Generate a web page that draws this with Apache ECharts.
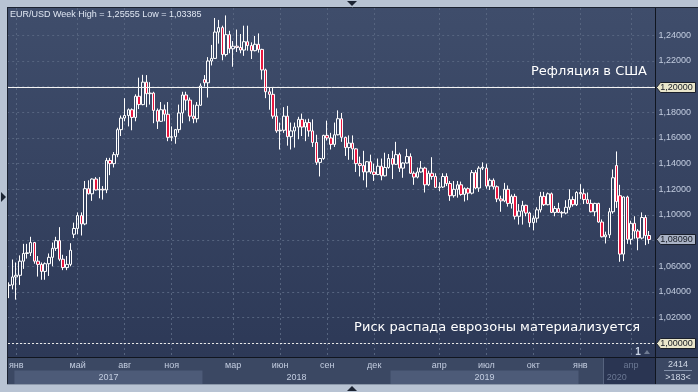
<!DOCTYPE html>
<html>
<head>
<meta charset="utf-8">
<script src="https://cdn.jsdelivr.net/npm/echarts@6.0.0/dist/echarts.min.js"></script>
<style>
html,body{margin:0;padding:0;overflow:hidden;background:#b8c3d3;}
#chart{width:698px;height:392px;}
</style>
</head>
<body>
<div id="chart"></div>
<script>
// ---------- data ----------
const weeks = [
'2016-12-18','2016-12-25',
'2017-01-01','2017-01-08','2017-01-15','2017-01-22','2017-01-29','2017-02-05','2017-02-12','2017-02-19','2017-02-26',
'2017-03-05','2017-03-12','2017-03-19','2017-03-26','2017-04-02','2017-04-09','2017-04-16','2017-04-23','2017-04-30',
'2017-05-07','2017-05-14','2017-05-21','2017-05-28','2017-06-04','2017-06-11','2017-06-18','2017-06-25','2017-07-02',
'2017-07-09','2017-07-16','2017-07-23','2017-07-30','2017-08-06','2017-08-13','2017-08-20','2017-08-27','2017-09-03',
'2017-09-10','2017-09-17','2017-09-24','2017-10-01','2017-10-08','2017-10-15','2017-10-22','2017-10-29','2017-11-05',
'2017-11-12','2017-11-19','2017-11-26','2017-12-03','2017-12-10','2017-12-17','2017-12-24','2017-12-31',
'2018-01-07','2018-01-14','2018-01-21','2018-01-28','2018-02-04','2018-02-11','2018-02-18','2018-02-25','2018-03-04',
'2018-03-11','2018-03-18','2018-03-25','2018-04-01','2018-04-08','2018-04-15','2018-04-22','2018-04-29','2018-05-06',
'2018-05-13','2018-05-20','2018-05-27','2018-06-03','2018-06-10','2018-06-17','2018-06-24','2018-07-01','2018-07-08',
'2018-07-15','2018-07-22','2018-07-29','2018-08-05','2018-08-12','2018-08-19','2018-08-26','2018-09-02','2018-09-09',
'2018-09-16','2018-09-23','2018-09-30','2018-10-07','2018-10-14','2018-10-21','2018-10-28','2018-11-04','2018-11-11',
'2018-11-18','2018-11-25','2018-12-02','2018-12-09','2018-12-16','2018-12-23','2018-12-30',
'2019-01-06','2019-01-13','2019-01-20','2019-01-27','2019-02-03','2019-02-10','2019-02-17','2019-02-24','2019-03-03',
'2019-03-10','2019-03-17','2019-03-24','2019-03-31','2019-04-07','2019-04-14','2019-04-21','2019-04-28','2019-05-05',
'2019-05-12','2019-05-19','2019-05-26','2019-06-02','2019-06-09','2019-06-16','2019-06-23','2019-06-30','2019-07-07',
'2019-07-14','2019-07-21','2019-07-28','2019-08-04','2019-08-11','2019-08-18','2019-08-25','2019-09-01','2019-09-08',
'2019-09-15','2019-09-22','2019-09-29','2019-10-06','2019-10-13','2019-10-20','2019-10-27','2019-11-03','2019-11-10',
'2019-11-17','2019-11-24','2019-12-01','2019-12-08','2019-12-15','2019-12-22','2019-12-29',
'2020-01-05','2020-01-12','2020-01-19','2020-01-26','2020-02-02','2020-02-09','2020-02-16','2020-02-23','2020-03-01',
'2020-03-08','2020-03-15','2020-03-22','2020-03-29','2020-04-05','2020-04-12','2020-04-19','2020-04-26','2020-05-03',
'2020-05-10'
];
const opens = [
1.0450,1.0455,
1.0517,1.0530,1.0640,1.0700,1.0705,1.0785,1.0640,1.0615,1.0560,
1.0620,1.0670,1.0740,1.0800,1.0655,1.0590,1.0615,1.0850,1.0895,
1.0995,1.0930,1.1205,1.1165,1.1280,1.1195,1.1200,1.1195,1.1425,
1.1400,1.1470,1.1665,1.1755,1.1775,1.1820,1.1760,1.1925,1.1860,
1.2035,1.1945,1.1950,1.1815,1.1730,1.1820,1.1785,1.1605,1.1610,
1.1665,1.1795,1.1935,1.1895,1.1770,1.1750,1.1855,1.2055,
1.2030,1.2200,1.2220,1.2425,1.2460,1.2250,1.2405,1.2295,1.2315,
1.2305,1.2285,1.2350,1.2320,1.2280,1.2330,1.2290,1.2130,1.1960,
1.1940,1.1770,1.1655,1.1660,1.1770,1.1610,1.1655,1.1685,1.1745,
1.1685,1.1720,1.1655,1.1565,1.1410,1.1440,1.1620,1.1600,1.1550,
1.1625,1.1750,1.1605,1.1525,1.1560,1.1515,1.1400,1.1385,1.1335,
1.1415,1.1335,1.1315,1.1380,1.1305,1.1370,1.1440,
1.1395,1.1470,1.1365,1.1405,1.1455,1.1325,1.1295,1.1335,1.1365,
1.1235,1.1325,1.1300,1.1215,1.1218,1.1300,1.1245,1.1150,1.1200,
1.1235,1.1160,1.1205,1.1170,1.1330,1.1210,1.1365,1.1365,1.1225,
1.1270,1.1220,1.1125,1.1110,1.1200,1.1090,1.1145,1.0990,1.1030,
1.1075,1.1015,1.0940,1.0975,1.1040,1.1145,1.1080,1.1165,1.1020,
1.1050,1.1020,1.1015,1.1060,1.1120,1.1080,1.1175,
1.1165,1.1120,1.1090,1.1025,1.1090,1.0945,1.0830,1.0845,1.1025,
1.1385,1.1150,1.0695,1.1140,1.0810,1.0935,1.0875,1.0820,1.0980,
1.0840
];
const highs = [
1.0475,1.0653,
1.0630,1.0685,1.0775,1.0775,1.0830,1.0790,1.0680,1.0630,1.0630,
1.0700,1.0785,1.0830,1.0905,1.0690,1.0680,1.0780,1.0940,1.1020,
1.1020,1.1265,1.1270,1.1285,1.1295,1.1295,1.1225,1.1445,1.1445,
1.1490,1.1680,1.1775,1.1910,1.1830,1.1830,1.1940,1.2070,1.2092,
1.2090,1.2035,1.1960,1.1830,1.1880,1.1860,1.1880,1.1690,1.1670,
1.1860,1.1960,1.1960,1.1915,1.1860,1.1880,1.2025,1.2090,
1.2230,1.2325,1.2535,1.2520,1.2475,1.2555,1.2435,1.2355,1.2445,
1.2410,1.2475,1.2475,1.2345,1.2395,1.2415,1.2295,1.2140,1.1995,
1.1995,1.1830,1.1720,1.1840,1.1850,1.1720,1.1720,1.1765,1.1790,
1.1745,1.1750,1.1745,1.1625,1.1445,1.1625,1.1735,1.1640,1.1720,
1.1815,1.1795,1.1610,1.1620,1.1620,1.1520,1.1455,1.1500,1.1420,
1.1470,1.1400,1.1440,1.1440,1.1485,1.1475,1.1500,
1.1570,1.1485,1.1410,1.1515,1.1480,1.1340,1.1370,1.1420,1.1375,
1.1345,1.1450,1.1325,1.1255,1.1325,1.1325,1.1265,1.1265,1.1265,
1.1260,1.1215,1.1215,1.1350,1.1350,1.1380,1.1410,1.1400,1.1285,
1.1285,1.1230,1.1150,1.1250,1.1230,1.1160,1.1165,1.1085,1.1110,
1.1080,1.1025,1.0995,1.1060,1.1180,1.1180,1.1175,1.1175,1.1070,
1.1095,1.1030,1.1115,1.1200,1.1145,1.1185,1.1240,
1.1205,1.1175,1.1120,1.1095,1.1095,1.0965,1.0870,1.1055,1.1355,
1.1495,1.1235,1.1145,1.1150,1.0955,1.0990,1.0890,1.1020,1.1000,
1.0875
];
const lows = [
1.0352,1.0420,
1.0340,1.0455,1.0580,1.0660,1.0680,1.0620,1.0520,1.0495,1.0495,
1.0525,1.0600,1.0720,1.0640,1.0570,1.0570,1.0600,1.0820,1.0850,
1.0840,1.0920,1.1160,1.1110,1.1190,1.1130,1.1120,1.1170,1.1310,
1.1370,1.1450,1.1615,1.1730,1.1690,1.1660,1.1730,1.1825,1.1855,
1.1840,1.1860,1.1715,1.1670,1.1725,1.1730,1.1575,1.1575,1.1555,
1.1640,1.1715,1.1815,1.1730,1.1715,1.1720,1.1850,1.2000,
1.1915,1.2165,1.2215,1.2335,1.2205,1.2235,1.2260,1.2155,1.2270,
1.2260,1.2240,1.2280,1.2215,1.2275,1.2265,1.2055,1.1910,1.1820,
1.1750,1.1640,1.1510,1.1640,1.1540,1.1510,1.1525,1.1590,1.1615,
1.1575,1.1610,1.1530,1.1390,1.1300,1.1430,1.1580,1.1510,1.1530,
1.1620,1.1570,1.1460,1.1430,1.1430,1.1335,1.1300,1.1270,1.1215,
1.1320,1.1265,1.1310,1.1270,1.1300,1.1360,1.1280,
1.1390,1.1335,1.1290,1.1400,1.1320,1.1235,1.1285,1.1330,1.1175,
1.1225,1.1275,1.1210,1.1185,1.1210,1.1225,1.1110,1.1135,1.1135,
1.1150,1.1105,1.1115,1.1160,1.1200,1.1180,1.1350,1.1205,1.1195,
1.1200,1.1100,1.1025,1.1100,1.1065,1.1050,1.0965,1.0925,1.0925,
1.0990,1.0905,1.0880,1.0940,1.1020,1.1070,1.1075,1.1015,1.0990,
1.1015,1.0980,1.1005,1.1040,1.1065,1.1070,1.1125,
1.1085,1.1085,1.1020,1.0990,1.0940,1.0825,1.0778,1.0820,1.1010,
1.1055,1.0635,1.0640,1.0775,1.0770,1.0815,1.0725,1.0810,1.0765,
1.0775
];
const closes = [
1.0455,1.0517,
1.0530,1.0640,1.0700,1.0705,1.0785,1.0640,1.0615,1.0560,1.0620,
1.0670,1.0740,1.0800,1.0655,1.0590,1.0615,1.0725,1.0895,1.0995,
1.0930,1.1205,1.1165,1.1280,1.1195,1.1200,1.1195,1.1425,1.1400,
1.1470,1.1665,1.1755,1.1775,1.1820,1.1760,1.1925,1.1860,1.2035,
1.1945,1.1950,1.1815,1.1730,1.1820,1.1785,1.1605,1.1610,1.1665,
1.1795,1.1935,1.1895,1.1770,1.1750,1.1855,1.2005,1.2030,
1.2200,1.2220,1.2425,1.2460,1.2250,1.2405,1.2295,1.2315,1.2305,
1.2285,1.2350,1.2320,1.2280,1.2330,1.2290,1.2130,1.1960,1.1940,
1.1770,1.1655,1.1660,1.1770,1.1610,1.1655,1.1685,1.1745,1.1685,
1.1720,1.1655,1.1565,1.1410,1.1440,1.1620,1.1600,1.1550,1.1625,
1.1750,1.1605,1.1525,1.1560,1.1515,1.1400,1.1385,1.1335,1.1415,
1.1335,1.1315,1.1380,1.1305,1.1370,1.1440,1.1395,
1.1470,1.1365,1.1405,1.1455,1.1325,1.1295,1.1335,1.1365,1.1235,
1.1325,1.1300,1.1215,1.1218,1.1300,1.1245,1.1150,1.1200,1.1235,
1.1160,1.1205,1.1170,1.1330,1.1210,1.1365,1.1372,1.1225,1.1270,
1.1220,1.1125,1.1110,1.1200,1.1090,1.1145,1.0990,1.1030,1.1075,
1.1015,1.0940,1.0975,1.1040,1.1145,1.1080,1.1165,1.1020,1.1050,
1.1020,1.1015,1.1060,1.1120,1.1080,1.1175,1.1165,
1.1120,1.1090,1.1025,1.1090,1.0945,1.0830,1.0845,1.1025,1.1290,
1.1105,1.0695,1.1140,1.0810,1.0935,1.0875,1.0820,1.0980,1.0840,
1.0809
];
// month tick labels (bar that contains the 1st day of the month)
const monthTickWeeks  = ['2017-01-01','2017-04-30','2017-07-30','2017-10-29','2018-02-25','2018-05-27','2018-08-26','2018-11-25','2019-03-31','2019-06-30','2019-09-29','2019-12-29','2020-04-05'];
const monthTickLabels = ['янв','май','авг','ноя','мар','июн','сен','дек','апр','июл','окт','янв','апр'];
const yearStartWeeks = ['2017-01-01','2017-12-31','2018-12-30','2019-12-29'];
const yearLabels = ['2017','2018','2019','2020'];
const yMin = 1.00, yMax = 1.24, yStep = 0.02;
const levelSolid = 1.20, levelDashed = 1.00, lastPrice = 1.0809;
const titleText = 'EUR/USD Week High = 1,25555 Low = 1,03385';
const noteTop = 'Рефляция в США';
const noteBottom = 'Риск распада еврозоны материализуется';
const counterTop = '2414', counterBottom = '>183<', pageMark = '1';

// ---------- chart ----------
const BAND = 3.616;
const FONT = '"Liberation Sans", Arial, sans-serif';
const LABEL = '#c3cde0', DIM = '#6b7893', GRID = '#56647f';
const monthMap = {};
monthTickWeeks.forEach((w, i) => { monthMap[w] = monthTickLabels[i]; });
const candles = weeks.map((w, i) => [opens[i], closes[i], lows[i], highs[i]]);
const catA = weeks.concat(['']);
const fmt = v => v.toFixed(5).replace('.', ',');

const chart = echarts.init(document.getElementById('chart'));
chart.setOption({
  animation: false,
  backgroundColor: 'transparent',
  grid: [
    {left: 9 - BAND / 2, top: 35.3, width: catA.length * BAND, height: 308},
    {left: 9, top: 8, width: (weeks.length - 1) * BAND, height: 349}
  ],
  xAxis: [
    {type: 'category', gridIndex: 0, data: catA, boundaryGap: true, show: false},
    {type: 'category', gridIndex: 1, data: weeks, boundaryGap: false,
     axisLine: {show: false}, axisTick: {show: false},
     axisLabel: {interval: (i, v) => v in monthMap, formatter: v => monthMap[v] || '',
                 margin: 4, fontSize: 9, fontFamily: FONT,
                 color: v => (v >= '2020-03-01' ? DIM : LABEL)},
     splitLine: {show: true, interval: (i, v) => v in monthMap,
                 lineStyle: {color: GRID, width: 1, type: [2, 3]}}}
  ],
  yAxis: [
    {type: 'value', gridIndex: 0, min: yMin, max: yMax, interval: yStep, position: 'right',
     axisLine: {show: false}, axisTick: {show: false},
     axisLabel: {margin: 4, fontSize: 9, fontFamily: FONT, color: LABEL, formatter: fmt},
     splitLine: {show: true, lineStyle: {color: GRID, width: 1, type: [2, 3]}}},
    {type: 'value', gridIndex: 1, min: 0, max: 1, show: false}
  ],
  series: [{
    type: 'candlestick', xAxisIndex: 0, yAxisIndex: 0, data: candles,
    barWidth: 3, clip: false, silent: true,
    itemStyle: {color: 'transparent', color0: '#e8163f', borderColor: '#ffffff',
                borderColor0: '#ffffff', borderWidth: 1},
    emphasis: {disabled: true}
  }]
});

const yOf = v => chart.convertToPixel({yAxisIndex: 0}, v);
const xOf = w => chart.convertToPixel({xAxisIndex: 1}, w);
const g = [];
// backgrounds
g.push({type: 'rect', z: -100, shape: {x: 0, y: 0, width: 698, height: 392}, style: {fill: '#b8c3d3'}});
g.push({type: 'rect', z: -99, shape: {x: 8, y: 8, width: 690, height: 349},
  style: {fill: {type: 'linear', x: 0, y: 0, x2: 0, y2: 1,
    colorStops: [{offset: 0, color: '#3f4d6b'}, {offset: 1, color: '#2d3957'}]}}});
g.push({type: 'rect', z: -99, shape: {x: 8, y: 357, width: 690, height: 27.5}, style: {fill: '#3b4863'}});
yearStartWeeks.forEach((w, i) => {
  const x0 = xOf(w) - BAND / 2;
  const x1 = i + 1 < yearStartWeeks.length ? xOf(yearStartWeeks[i + 1]) - BAND / 2 : 655;
  if (i % 2 === 0 && i < 3) {
    g.push({type: 'rect', z: -98, shape: {x: x0, y: 370.5, width: x1 - x0, height: 14}, style: {fill: '#4d5b78'}});
  }
  g.push({type: 'text', z: 120, style: {text: yearLabels[i], x: (x0 + x1) / 2, y: 377.5, align: 'center',
    verticalAlign: 'middle', font: '9px ' + FONT, fill: i === 3 ? DIM : LABEL}});
});
g.push({type: 'rect', z: -97, shape: {x: 603, y: 357.5, width: 52, height: 27}, style: {fill: '#2a3552'}});
g.push({type: 'line', z: -96, shape: {x1: 603.5, y1: 358, x2: 603.5, y2: 384}, style: {stroke: '#56637e', lineWidth: 1}});
// borders
const dark = '#10151f';
g.push({type: 'line', z: 100, shape: {x1: 7, y1: 7.5, x2: 698, y2: 7.5}, style: {stroke: '#1b2230', lineWidth: 1}});
g.push({type: 'line', z: 100, shape: {x1: 7.5, y1: 7, x2: 7.5, y2: 384.5}, style: {stroke: '#1b2230', lineWidth: 1}});
g.push({type: 'line', z: 100, shape: {x1: 655.5, y1: 8, x2: 655.5, y2: 384.5}, style: {stroke: dark, lineWidth: 1}});
g.push({type: 'line', z: 100, shape: {x1: 8, y1: 357.5, x2: 698, y2: 357.5}, style: {stroke: dark, lineWidth: 1}});
g.push({type: 'line', z: 100, shape: {x1: 7, y1: 384.5, x2: 698, y2: 384.5}, style: {stroke: '#8c98aa', lineWidth: 1}});
// little arrows
g.push({type: 'polygon', z: 100, shape: {points: [[347, 1], [357, 1], [352, 6]]}, style: {fill: '#1c2433'}});
g.push({type: 'polygon', z: 100, shape: {points: [[347, 391], [357, 391], [352, 386]]}, style: {fill: '#1c2433'}});
g.push({type: 'polygon', z: 100, shape: {points: [[1, 192], [1, 202], [6, 197]]}, style: {fill: '#1c2433'}});
// level lines
const ySolid = Math.round(yOf(levelSolid)) + 0.5;
const yDash = Math.round(yOf(levelDashed)) + 0.5;
g.push({type: 'line', z: 50, shape: {x1: 8, y1: ySolid, x2: 655, y2: ySolid}, style: {stroke: '#f4f4f4', lineWidth: 1}});
g.push({type: 'line', z: 50, shape: {x1: 8, y1: yDash, x2: 655, y2: yDash}, style: {stroke: '#e8e8e8', lineWidth: 1, lineDash: [2, 2]}});
// tags on the price scale
function tag(value, fill) {
  const y = Math.round(yOf(value)) + 0.5;
  const a = 656.5, b = 660.5, c = 695.5, h = 5;
  g.push({type: 'polygon', z: 110, shape: {points: [[a, y], [b, y - h], [c, y - h], [c, y + h], [b, y + h]]},
    style: {fill: fill, stroke: '#1a1f2b', lineWidth: 1}});
  g.push({type: 'text', z: 111, style: {text: fmt(value), x: 676.5, y: y, align: 'center',
    verticalAlign: 'middle', font: '9px ' + FONT, fill: '#151922'}});
}
tag(levelSolid, '#e9e6cb');
tag(levelDashed, '#e9e6cb');
tag(lastPrice, '#aab3c5');
// texts
g.push({type: 'text', z: 120, style: {text: titleText, x: 10, y: 14.7, verticalAlign: 'middle',
  font: '9px ' + FONT, fill: '#dfe6f2'}});
g.push({type: 'text', z: 120, style: {text: noteTop, x: 647, y: 72, align: 'right', verticalAlign: 'middle',
  font: '13px "DejaVu Sans", sans-serif', fill: '#ffffff'}});
g.push({type: 'text', z: 120, style: {text: noteBottom, x: 640, y: 327.5, align: 'right', verticalAlign: 'middle',
  font: '13px "DejaVu Sans", sans-serif', fill: '#ffffff'}});
g.push({type: 'text', z: 120, style: {text: pageMark, x: 638, y: 352, align: 'center', verticalAlign: 'middle',
  font: 'bold 10px ' + FONT, fill: '#c8d2e4'}});
g.push({type: 'polygon', z: 120, shape: {points: [[644, 354], [650, 354], [647, 350]]}, style: {fill: '#6f7b92'}});
g.push({type: 'text', z: 120, style: {text: counterTop, x: 678, y: 364.5, align: 'center', verticalAlign: 'middle',
  font: '9px ' + FONT, fill: '#d0d8e6'}});
g.push({type: 'line', z: 120, shape: {x1: 664, y1: 370.5, x2: 692, y2: 370.5}, style: {stroke: '#8290a8', lineWidth: 1}});
g.push({type: 'text', z: 120, style: {text: counterBottom, x: 678, y: 377.5, align: 'center', verticalAlign: 'middle',
  font: '9px ' + FONT, fill: '#d0d8e6'}});

chart.setOption({graphic: {elements: g}});
</script>
</body>
</html>
